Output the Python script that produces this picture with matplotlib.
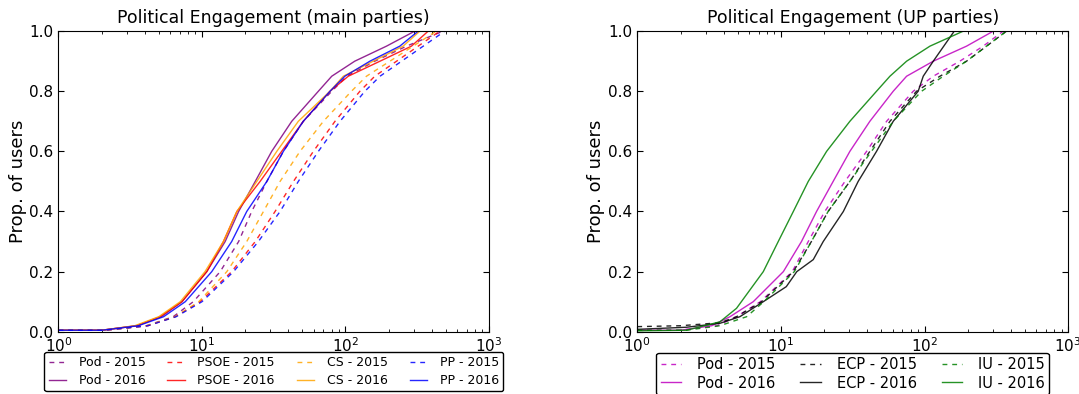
import numpy as np
import matplotlib
matplotlib.use("Agg")
import matplotlib.pyplot as plt

# cumulative share of users (shared by most curves)
levels = [0.005, 0.005, 0.02, 0.05, 0.1, 0.2, 0.3, 0.4, 0.5, 0.6, 0.7, 0.8, 0.85, 0.9, 0.95, 1.0]

# main parties: engagement value reached at each level
pod15 = [1, 2.1, 4.1, 6.3, 8.7, 13.4, 18.0, 22.2, 28.3, 36.9, 50.8, 80.2, 102, 160, 266, 479]
pod16 = [1, 2.0, 3.5, 5.2, 7.25, 10.8, 14.5, 18.0, 23.5, 30.6, 42.2, 64.7, 80.2, 116, 193, 304]
psoe15 = [1, 2.1, 4.2, 6.5, 9.7, 16.1, 23.5, 32.3, 43.4, 59.7, 84.5, 126, 160, 227, 321, 454]
psoe16 = [1, 2.0, 3.5, 5.1, 7.25, 10.8, 14.1, 17.5, 25.4, 35.9, 50.8, 78.0, 104.6, 174, 288, 377]
cs15 = [1, 2.1, 4.1, 6.5, 9.5, 14.9, 20.5, 26.8, 35.0, 48.2, 70.1, 110, 140, 204, 296, 430]
cs16 = [1, 2.0, 3.4, 5.0, 7.06, 10.5, 14.1, 17.5, 24.1, 33.2, 46.9, 78.0, 96.6, 156, 252, 330]
pp15 = [1, 2.1, 4.2, 6.6, 10.0, 16.6, 24.7, 35.0, 46.9, 64.7, 91.6, 136.5, 174, 246, 348, 492]
pp16 = [1, 2.0, 3.6, 5.4, 7.65, 11.7, 16.1, 20.5, 28.3, 36.9, 50.8, 78.0, 99.0, 148, 239, 321]

# UP parties
up_pod15 = [1, 2.0, 3.6, 4.9, 7.2, 12.0, 15.5, 20.2, 27.9, 39.5, 54.4, 83.4, 115, 176, 256, 353]
up_pod16 = [1, 2.0, 3.3, 4.42, 6.42, 10.4, 13.9, 17.7, 23.1, 30.2, 41.6, 60.5, 75.0, 115, 196, 301]
ecp15_levels = [0.017, 0.02, 0.03, 0.05, 0.1, 0.2, 0.3, 0.4, 0.5, 0.6, 0.7, 0.8, 0.85, 0.9, 0.95, 1.0]
ecp15 = [1, 2.0, 3.76, 4.91, 7.33, 12.2, 16.3, 21.3, 30.2, 41.6, 57.4, 87.9, 128, 196, 270, 372]
ecp16_levels = [0.008, 0.015, 0.028, 0.05, 0.1, 0.15, 0.2, 0.24, 0.3, 0.4, 0.5, 0.6, 0.7, 0.8, 0.85, 0.9, 1.0]
ecp16 = [1, 2.2, 3.76, 5.18, 7.54, 10.9, 12.9, 16.8, 19.7, 27.2, 34.5, 46.3, 60.5, 90.3, 97.9, 115, 161]
iu15 = [1, 2.2, 3.76, 5.77, 7.6, 12.4, 16.3, 21.3, 30.2, 42.7, 60.5, 95.3, 135, 196, 270, 372]
iu16_levels = [0.003, 0.005, 0.033, 0.078, 0.2, 0.3, 0.4, 0.5, 0.6, 0.7, 0.8, 0.85, 0.9, 0.95, 1.0]
iu16 = [1, 2.2, 3.76, 4.91, 7.54, 9.58, 12.2, 15.5, 20.8, 30.2, 46.3, 57.4, 75.0, 109, 186]

plt.rcParams['font.family'] = ['DejaVu Sans']
plt.rcParams['xtick.direction'] = 'in'
plt.rcParams['ytick.direction'] = 'in'
plt.rcParams['xtick.top'] = True
plt.rcParams['ytick.right'] = True
plt.rcParams['xtick.major.size'] = 4
plt.rcParams['xtick.minor.size'] = 2
plt.rcParams['ytick.major.size'] = 4
plt.rcParams['lines.linewidth'] = 1.0
plt.rcParams['lines.dashed_pattern'] = (3.5, 3.5)

fig = plt.figure(figsize=(10.79, 3.94), dpi=100)
ax1 = fig.add_axes([0.0542, 0.158, 0.399, 0.763])
ax2 = fig.add_axes([0.5906, 0.158, 0.3994, 0.763])

a = 0.85
ax1.plot(pod15, levels, '--', color='purple', alpha=a, label='Pod - 2015')
ax1.plot(pod16, levels, '-', color='purple', alpha=a, label='Pod - 2016')
ax1.plot(psoe15, levels, '--', color='red', alpha=a, label='PSOE - 2015')
ax1.plot(psoe16, levels, '-', color='red', alpha=a, label='PSOE - 2016')
ax1.plot(cs15, levels, '--', color='orange', alpha=a, label='CS - 2015')
ax1.plot(cs16, levels, '-', color='orange', alpha=a, label='CS - 2016')
ax1.plot(pp15, levels, '--', color='blue', alpha=a, label='PP - 2015')
ax1.plot(pp16, levels, '-', color='blue', alpha=a, label='PP - 2016')

ax2.plot(up_pod15, levels, '--', color='m', alpha=a, label='Pod - 2015')
ax2.plot(up_pod16, levels, '-', color='m', alpha=a, label='Pod - 2016')
ax2.plot(ecp15, ecp15_levels, '--', color='k', alpha=a, label='ECP - 2015')
ax2.plot(ecp16, ecp16_levels, '-', color='k', alpha=a, label='ECP - 2016')
ax2.plot(iu15, levels, '--', color='g', alpha=a, label='IU - 2015')
ax2.plot(iu16, iu16_levels, '-', color='g', alpha=a, label='IU - 2016')

for ax, title in [(ax1, 'Political Engagement (main parties)'),
                  (ax2, 'Political Engagement (UP parties)')]:
    ax.set_xscale('log')
    ax.set_xlim(1, 1000)
    ax.set_ylim(0, 1)
    ax.set_yticks([0, 0.2, 0.4, 0.6, 0.8, 1.0])
    ax.set_yticklabels(['0.0', '0.2', '0.4', '0.6', '0.8', '1.0'])
    ax.tick_params(labelsize=11)
    ax.set_title(title, fontsize=12.5)
    ax.set_ylabel('Prop. of users', fontsize=13, labelpad=2)

ax1.legend(loc='upper center', bbox_to_anchor=(0.5, -0.045), ncol=4, fontsize=9,
           columnspacing=1.75, handlelength=1.4, handletextpad=1.0, fancybox=True,
           edgecolor='black', framealpha=1, borderpad=0.35, labelspacing=0.4)
ax2.legend(loc='upper center', bbox_to_anchor=(0.5, -0.045), ncol=3, fontsize=10.5,
           columnspacing=1.7, handlelength=1.4, handletextpad=1.1, fancybox=True,
           edgecolor='black', framealpha=1, borderpad=0.3, labelspacing=0.25)

fig.savefig('out.png', dpi=100)
